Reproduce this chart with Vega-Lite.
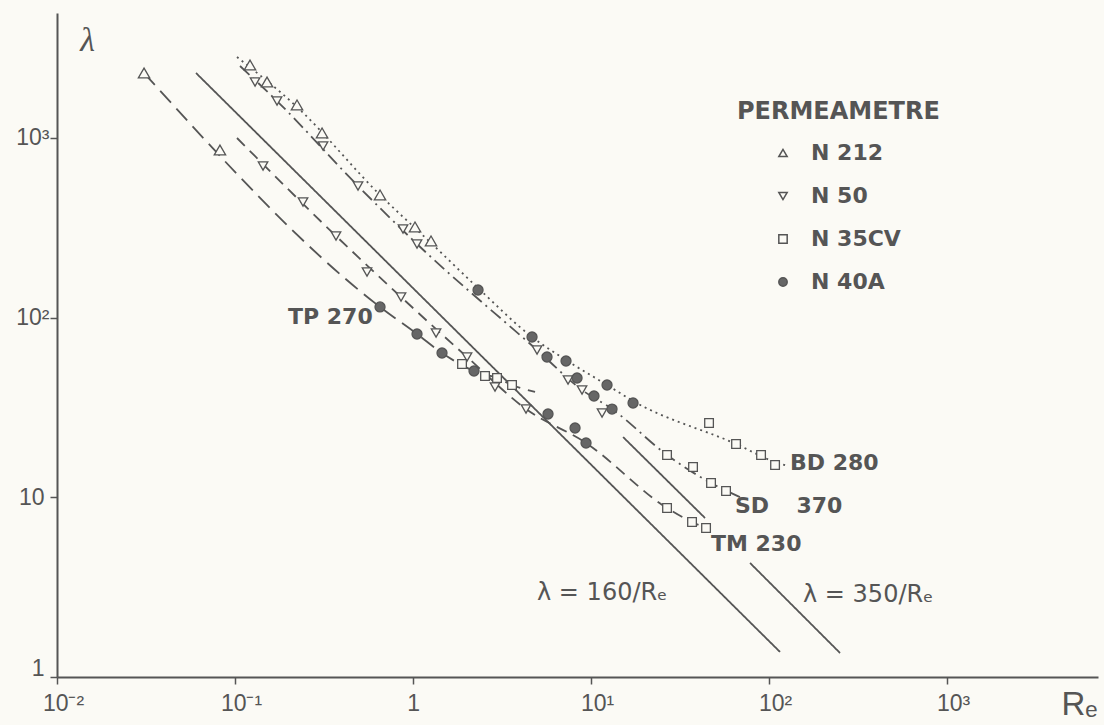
{
  "$schema": "https://vega.github.io/schema/vega-lite/v6.json",
  "width": 1041,
  "height": 664,
  "autosize": {"type": "none"},
  "padding": {"left": 57, "top": 13, "right": 6, "bottom": 48},
  "background": "#fbfaf5",
  "config": {
    "view": {"stroke": null},
    "axis": {"grid": false, "domainColor": "#555", "domainWidth": 2, "tickColor": "#555", "tickWidth": 1.5, "labelColor": "#555", "labelFont": "Liberation Sans", "labelFontSize": 23, "titleColor": "#555", "labelFlush": false, "labelOverlap": false, "labelBound": false}
  },
  "datasets": {
    "curves": [
      {"curve": "160", "o": 1, "Re": 0.06038, "lam": 2297},
      {"curve": "160", "o": 2, "Re": 115.3, "lam": 1.378},
      {"curve": "350a", "o": 1, "Re": 15.13, "lam": 21.65},
      {"curve": "350a", "o": 2, "Re": 43.7, "lam": 7.67},
      {"curve": "350b", "o": 1, "Re": 78.23, "lam": 4.309},
      {"curve": "350b", "o": 2, "Re": 250.6, "lam": 1.36},
      {"curve": "TP", "o": 1, "Re": 0.03083, "lam": 2297},
      {"curve": "TP", "o": 2, "Re": 0.6526, "lam": 114.6},
      {"curve": "TP", "o": 3, "Re": 1.053, "lam": 81.07},
      {"curve": "TP", "o": 4, "Re": 1.455, "lam": 63.53},
      {"curve": "TP", "o": 5, "Re": 2.201, "lam": 50.45},
      {"curve": "TP", "o": 6, "Re": 2.964, "lam": 46.12},
      {"curve": "TP", "o": 7, "Re": 3.599, "lam": 42.17},
      {"curve": "TP", "o": 8, "Re": 4.847, "lam": 38.55},
      {"curve": "TM", "o": 1, "Re": 0.1026, "lam": 998.7},
      {"curve": "TM", "o": 2, "Re": 0.3693, "lam": 284.5},
      {"curve": "TM", "o": 3, "Re": 0.8562, "lam": 130.2},
      {"curve": "TM", "o": 4, "Re": 2.011, "lam": 60.36},
      {"curve": "TM", "o": 5, "Re": 4.313, "lam": 30.99},
      {"curve": "TM", "o": 6, "Re": 9.374, "lam": 20.05},
      {"curve": "TM", "o": 7, "Re": 26.73, "lam": 8.72},
      {"curve": "TM", "o": 8, "Re": 36.93, "lam": 7.289},
      {"curve": "TM", "o": 9, "Re": 44.27, "lam": 6.749},
      {"curve": "SD", "o": 1, "Re": 0.1067, "lam": 2512},
      {"curve": "SD", "o": 2, "Re": 0.1722, "lam": 1604},
      {"curve": "SD", "o": 3, "Re": 0.4909, "lam": 539.9},
      {"curve": "SD", "o": 4, "Re": 1.053, "lam": 256.8},
      {"curve": "SD", "o": 5, "Re": 4.974, "lam": 66.03},
      {"curve": "SD", "o": 6, "Re": 8.901, "lam": 39.55},
      {"curve": "SD", "o": 7, "Re": 13.12, "lam": 30.99},
      {"curve": "SD", "o": 8, "Re": 26.73, "lam": 17.2},
      {"curve": "SD", "o": 9, "Re": 47.22, "lam": 12.01},
      {"curve": "SD", "o": 10, "Re": 70.52, "lam": 9.91},
      {"curve": "BD", "o": 1, "Re": 0.1026, "lam": 2819},
      {"curve": "BD", "o": 2, "Re": 0.223, "lam": 1486},
      {"curve": "BD", "o": 3, "Re": 0.6526, "lam": 481.3},
      {"curve": "BD", "o": 4, "Re": 1.262, "lam": 260.1},
      {"curve": "BD", "o": 5, "Re": 2.319, "lam": 146.1},
      {"curve": "BD", "o": 6, "Re": 4.662, "lam": 77.98},
      {"curve": "BD", "o": 7, "Re": 7.236, "lam": 58.07},
      {"curve": "BD", "o": 8, "Re": 12.3, "lam": 42.17},
      {"curve": "BD", "o": 9, "Re": 17.22, "lam": 34.35},
      {"curve": "BD", "o": 10, "Re": 65.26, "lam": 19.8},
      {"curve": "BD", "o": 11, "Re": 108.1, "lam": 15.72},
      {"curve": "BD", "o": 12, "Re": 127.9, "lam": 14.93}
    ],
    "pts": [
      {"perm": "N 212", "Re": 0.03083, "lam": 2297},
      {"perm": "N 212", "Re": 0.0823, "lam": 856.3},
      {"perm": "N 212", "Re": 0.1214, "lam": 2545},
      {"perm": "N 212", "Re": 0.1513, "lam": 2047},
      {"perm": "N 212", "Re": 0.223, "lam": 1525},
      {"perm": "N 212", "Re": 0.3083, "lam": 1065},
      {"perm": "N 212", "Re": 0.6526, "lam": 481.3},
      {"perm": "N 212", "Re": 1.026, "lam": 319.4},
      {"perm": "N 212", "Re": 1.262, "lam": 266.9},
      {"perm": "N 50", "Re": 0.1296, "lam": 2047},
      {"perm": "N 50", "Re": 0.1722, "lam": 1604},
      {"perm": "N 50", "Re": 0.3123, "lam": 901.4},
      {"perm": "N 50", "Re": 0.4909, "lam": 539.9},
      {"perm": "N 50", "Re": 0.8786, "lam": 311.3},
      {"perm": "N 50", "Re": 1.053, "lam": 256.8},
      {"perm": "N 50", "Re": 4.974, "lam": 66.03},
      {"perm": "N 50", "Re": 7.427, "lam": 44.96},
      {"perm": "N 50", "Re": 8.901, "lam": 39.55},
      {"perm": "N 50", "Re": 11.53, "lam": 29.45},
      {"perm": "N 50", "Re": 0.1437, "lam": 697.6},
      {"perm": "N 50", "Re": 0.241, "lam": 439.9},
      {"perm": "N 50", "Re": 0.3693, "lam": 284.5},
      {"perm": "N 50", "Re": 0.5515, "lam": 179.4},
      {"perm": "N 50", "Re": 0.8562, "lam": 130.2},
      {"perm": "N 50", "Re": 1.347, "lam": 82.12},
      {"perm": "N 50", "Re": 2.011, "lam": 60.36},
      {"perm": "N 50", "Re": 2.888, "lam": 41.1},
      {"perm": "N 50", "Re": 4.313, "lam": 30.99},
      {"perm": "N 35CV", "Re": 1.885, "lam": 55.18},
      {"perm": "N 35CV", "Re": 2.538, "lam": 47.32},
      {"perm": "N 35CV", "Re": 2.964, "lam": 46.12},
      {"perm": "N 35CV", "Re": 3.599, "lam": 42.17},
      {"perm": "N 35CV", "Re": 26.73, "lam": 8.72},
      {"perm": "N 35CV", "Re": 36.93, "lam": 7.289},
      {"perm": "N 35CV", "Re": 44.27, "lam": 6.749},
      {"perm": "N 35CV", "Re": 26.73, "lam": 17.2},
      {"perm": "N 35CV", "Re": 37.41, "lam": 14.75},
      {"perm": "N 35CV", "Re": 47.22, "lam": 12.01},
      {"perm": "N 35CV", "Re": 57.33, "lam": 10.84},
      {"perm": "N 35CV", "Re": 46.02, "lam": 25.91},
      {"perm": "N 35CV", "Re": 65.26, "lam": 19.8},
      {"perm": "N 35CV", "Re": 90.18, "lam": 17.2},
      {"perm": "N 35CV", "Re": 108.1, "lam": 15.12},
      {"perm": "N 40A", "Re": 0.6526, "lam": 114.6},
      {"perm": "N 40A", "Re": 1.053, "lam": 81.07},
      {"perm": "N 40A", "Re": 1.455, "lam": 63.53},
      {"perm": "N 40A", "Re": 2.201, "lam": 50.45},
      {"perm": "N 40A", "Re": 5.733, "lam": 29.08},
      {"perm": "N 40A", "Re": 8.132, "lam": 24.3},
      {"perm": "N 40A", "Re": 9.374, "lam": 20.05},
      {"perm": "N 40A", "Re": 2.319, "lam": 142.4},
      {"perm": "N 40A", "Re": 4.662, "lam": 77.98},
      {"perm": "N 40A", "Re": 7.236, "lam": 57.34},
      {"perm": "N 40A", "Re": 12.3, "lam": 42.17},
      {"perm": "N 40A", "Re": 17.22, "lam": 33.48},
      {"perm": "N 40A", "Re": 5.659, "lam": 60.36},
      {"perm": "N 40A", "Re": 8.345, "lam": 46.12},
      {"perm": "N 40A", "Re": 10.39, "lam": 36.62},
      {"perm": "N 40A", "Re": 13.12, "lam": 30.99}
    ],
    "tags": [
      {"tag": "TP 270", "Re": 0.1985, "lam": 100.8},
      {"tag": "BD 280", "Re": 131.2, "lam": 15.52},
      {"tag": "SD\u00a0\u00a0\u00a0\u2009370", "Re": 64.4, "lam": 8.945},
      {"tag": "TM 230", "Re": 47.2, "lam": 5.497}
    ],
    "eqs": [
      {"tag": "\u03bb = 160/R\u2091", "Re": 4.974, "lam": 2.934},
      {"tag": "\u03bb = 350/R\u2091", "Re": 155.2, "lam": 2.859}
    ]
  },
  "encoding": {
    "x": {
      "field": "Re", "type": "quantitative",
      "scale": {"type": "log", "domain": [0.01, 7047], "nice": false, "zero": false},
      "axis": {
        "values": [0.01, 0.1, 1, 10, 100, 1000],
        "labelExpr": "datum.value < 0.05 ? '10\u207b\u00b2' : datum.value < 0.5 ? '10\u207b\u00b9' : datum.value < 5 ? '1' : datum.value < 50 ? '10\u00b9' : datum.value < 500 ? '10\u00b2' : '10\u00b3'",
        "tickSize": 7,
        "labelPadding": 8,
        "labelOffset": {"condition": {"test": "datum.value > 0.5 && datum.value < 5", "value": 0}, "value": 6},
        "title": "R\u2091",
        "titleX": 1004, "titleY": 27, "titleAlign": "left", "titleBaseline": "middle",
        "titleFont": "Liberation Sans", "titleFontSize": 33, "titleFontWeight": "normal"
      }
    },
    "y": {
      "field": "lam", "type": "quantitative",
      "scale": {"type": "log", "domain": [1, 4955], "nice": false, "zero": false},
      "axis": {
        "values": [1, 10, 100, 1000],
        "labelExpr": "datum.value < 5 ? '1' : datum.value < 50 ? '10' : datum.value < 500 ? '10\u00b2' : '10\u00b3'",
        "tickSize": 7,
        "labelPadding": {"condition": {"test": "datum.value > 50", "value": 1}, "value": 6},
        "labelOffset": {"condition": {"test": "datum.value < 5", "value": -9}, "value": 0},
        "title": "\u03bb",
        "titleAngle": 0, "titleX": 30, "titleY": 27, "titleAlign": "center", "titleBaseline": "middle",
        "titleFont": "Liberation Serif", "titleFontStyle": "italic", "titleFontSize": 34, "titleFontWeight": "normal"
      }
    }
  },
  "layer": [
    {
      "data": {"name": "curves"},
      "mark": {"type": "line", "interpolate": "monotone", "stroke": "#555"},
      "encoding": {
        "detail": {"field": "curve", "type": "nominal"},
        "order": {"field": "o", "type": "quantitative"},
        "strokeDash": {
          "field": "curve", "type": "nominal", "legend": null,
          "scale": {"domain": ["160", "350a", "350b", "TP", "TM", "SD", "BD"],
                    "range": [[1, 0], [1, 0], [1, 0], [16, 8], [11, 7], [13, 5, 2, 5], [2, 4]]}
        },
        "strokeWidth": {
          "field": "curve", "type": "nominal", "legend": null,
          "scale": {"domain": ["160", "350a", "350b", "TP", "TM", "SD", "BD"],
                    "range": [1.8, 1.8, 1.8, 1.7, 1.7, 1.7, 2.3]}
        }
      }
    },
    {
      "data": {"name": "pts"},
      "encoding": {
        "shape": {
          "field": "perm", "type": "nominal",
          "scale": {"domain": ["N 212", "N 50", "N 35CV", "N 40A"], "range": ["triangle-up", "triangle-down", "square", "circle"]},
          "legend": {
            "orient": "none", "legendX": 680, "legendY": 87, "padding": 0,
            "title": "PERMEAMETRE", "titleFont": "DejaVu Sans", "titleFontSize": 24, "titleFontWeight": "bold", "titleColor": "#555",
            "titleAnchor": "start", "titlePadding": 18, "titleLimit": 500,
            "labelFont": "DejaVu Sans", "labelFontSize": 22, "labelFontWeight": "bold", "labelColor": "#555", "labelLimit": 300,
            "symbolOffset": 35, "labelOffset": 17, "rowPadding": 21, "symbolSize": 70,
            "encode": {"symbols": {"update": {"stroke": {"value": "#555"}, "strokeWidth": {"value": 1.3}}}}
          }
        },
        "fill": {
          "field": "perm", "type": "nominal",
          "scale": {"domain": ["N 212", "N 50", "N 35CV", "N 40A"], "range": ["#fbfaf5", "#fbfaf5", "#fbfaf5", "#666666"]}
        }
      },
      "layer": [
        {
          "transform": [{"filter": "datum.perm == 'N 212'"}],
          "mark": {"type": "point", "filled": true, "stroke": "#555", "strokeWidth": 1.3, "opacity": 1, "size": 130}
        },
        {
          "transform": [{"filter": "datum.perm == 'N 50'"}],
          "mark": {"type": "point", "filled": true, "stroke": "#555", "strokeWidth": 1.3, "opacity": 1, "size": 90}
        },
        {
          "transform": [{"filter": "datum.perm == 'N 35CV'"}],
          "mark": {"type": "point", "filled": true, "stroke": "#555", "strokeWidth": 1.3, "opacity": 1, "size": 75}
        },
        {
          "transform": [{"filter": "datum.perm == 'N 40A'"}],
          "mark": {"type": "point", "filled": true, "stroke": "#555", "strokeWidth": 1.3, "opacity": 1, "size": 100}
        }
      ]
    },
    {
      "data": {"name": "tags"},
      "mark": {"type": "text", "align": "left", "baseline": "middle", "font": "DejaVu Sans", "fontSize": 22, "fontWeight": "bold", "fill": "#555"},
      "encoding": {"text": {"field": "tag", "type": "nominal"}}
    },
    {
      "data": {"name": "eqs"},
      "mark": {"type": "text", "align": "left", "baseline": "middle", "font": "DejaVu Sans", "fontSize": 24, "fill": "#555"},
      "encoding": {"text": {"field": "tag", "type": "nominal"}}
    },
    {
      "data": {"values": [{}]},
      "mark": {"type": "point", "shape": "M0,0L-2,-0.5L-2,0.5Z", "size": 144, "fill": "#555", "stroke": null, "filled": true, "opacity": 1},
      "encoding": {"x": {"datum": 7047}, "y": {"datum": 1}}
    },
    {
      "data": {"values": [{}]},
      "mark": {"type": "point", "shape": "M0,0L-0.5,2L0.5,2Z", "size": 144, "fill": "#555", "stroke": null, "filled": true, "opacity": 1},
      "encoding": {"x": {"datum": 0.01}, "y": {"datum": 4955}}
    }
  ]
}
